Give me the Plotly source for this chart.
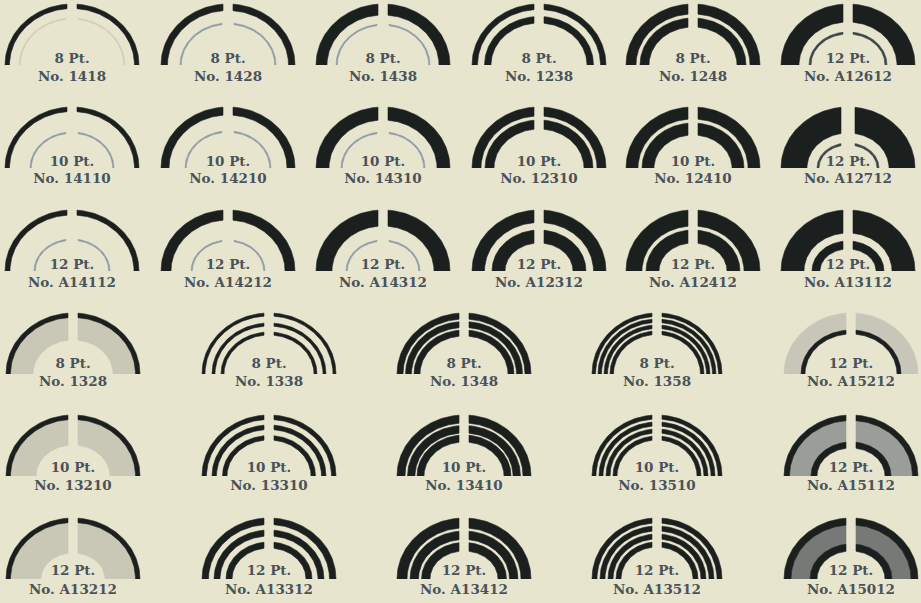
import numpy as np
import plotly.graph_objects as go

# ---------------- data ----------------
row_points = [8, 10, 12, 8, 10, 12]
rows_top = [
    ["1418", "1428", "1438", "1238", "1248", "A12612"],
    ["14110", "14210", "14310", "12310", "12410", "A12712"],
    ["A14112", "A14212", "A14312", "A12312", "A12412", "A13112"],
]
rows_bottom = [
    ["1328", "1338", "1348", "1358", "A15212"],
    ["13210", "13310", "13410", "13510", "A15112"],
    ["A13212", "A13312", "A13412", "A13512", "A15012"],
]
# point size printed for the last column of rows 1-6
last_col_points = [12, 12, 12, 12, 12, 12]

# ---------------- styles (band offsets from outer edge, px) ----------------
K = "#1b201f"
G1 = "#8e9aa4"
F = "#d3cfba"
LG = "#c9c7b5"
LG2 = "#c7c6b8"
MG = "#9b9d98"
DG = "#777977"
DL = "#3d4749"

STYLE = {
    "1418": [(0, 4.5, K), (14, 15.3, F)],
    "1428": [(0, 6.5, K), (19, 20.3, G1)],
    "1438": [(0, 11, K), (20, 21.3, G1)],
    "1238": [(0, 5.5, K), (12.5, 19, K)],
    "1248": [(0, 10, K), (14, 23, K)],
    "A12612": [(0, 18, K), (28, 30, DL)],
    "14110": [(0, 4.5, K), (25, 26.3, G1)],
    "14210": [(0, 8, K), (24, 25.3, G1)],
    "14310": [(0, 13, K), (25, 26.3, G1)],
    "12310": [(0, 9, K), (13, 22, K)],
    "12410": [(0, 12, K), (16, 28, K)],
    "A12712": [(0, 26, K), (36, 38, DL)],
    "A14112": [(0, 5, K), (29, 30.3, G1)],
    "A14212": [(0, 10, K), (30, 31.3, G1)],
    "A14312": [(0, 16, K), (30, 31.3, G1)],
    "A12312": [(0, 12.5, K), (20, 33, K)],
    "A12412": [(0, 16, K), (20, 33, K)],
    "A13112": [(0, 23, K), (31, 39, K)],
    "1328": [(4, 27, LG), (0, 4.5, K)],
    "1338": [(0, 3, K), (10, 13, K), (19, 22, K)],
    "1348": [(0, 6, K), (8.5, 14.5, K), (17, 23, K)],
    "1358": [(0, 3.5, K), (6, 9.5, K), (12, 15.5, K), (18, 21.5, K)],
    "A15212": [(0, 18, LG2), (17, 21, K)],
    "13210": [(4, 30, LG), (0, 4.5, K)],
    "13310": [(0, 4.5, K), (10, 14.5, K), (20.5, 25, K)],
    "13410": [(0, 8, K), (10.5, 18, K), (20, 27, K)],
    "13510": [(0, 4, K), (7, 11, K), (14, 18, K), (21, 25, K)],
    "A15112": [(5, 28, MG), (0, 5.5, K), (27, 33, K)],
    "A13212": [(4, 35, LG), (0, 4.5, K)],
    "A13312": [(0, 6.5, K), (12, 18, K), (24, 30, K)],
    "A13412": [(0, 10, K), (13, 21.5, K), (24.5, 33, K)],
    "A13512": [(0, 5, K), (8, 13, K), (16, 21, K), (24, 29, K)],
    "A15012": [(7, 26, DG), (0, 7, K), (26, 33, K)],
}
GAP = {"A12712": 14}

BG = "#e8e5cf"
TXT = "#48535a"

top_cx = [72, 228, 383, 539, 693, 848]
bot_cx = [73, 269, 464, 657, 851]
base_y = [65, 168, 271, 374, 476, 579]
pt_dy = [-5, -5, -5, -9, -7, -7]
no_dy = [13, 12, 13, 9, 11, 12]
RY = 61


def band_path(cx, by, rx, ry, d1, d2, gap):
    ax1, ay1 = rx - d1, ry - d1
    ax2, ay2 = rx - d2, ry - d2
    g = gap / 2.0
    t1 = np.arccos(-g / ax1)
    t2 = np.arccos(-g / ax2)
    to = np.linspace(np.pi, t1, 60)
    ti = np.linspace(t2, np.pi, 60)
    px = np.concatenate([ax1 * np.cos(to), ax2 * np.cos(ti)])
    py = np.concatenate([ay1 * np.sin(to), ay2 * np.sin(ti)])
    xs, ys = [], []
    for sgn in (1, -1):
        xs += list(cx + sgn * px) + [None]
        ys += list(by - py) + [None]
    return xs, ys


fig = go.Figure()

specimens = []
for r, names in enumerate(rows_top):
    for c, n in enumerate(names):
        pts = last_col_points[r] if c == len(names) - 1 else row_points[r]
        specimens.append((n, pts, top_cx[c], r, 67))
for rr, names in enumerate(rows_bottom):
    r = rr + 3
    for c, n in enumerate(names):
        pts = last_col_points[r] if c == len(names) - 1 else row_points[r]
        rx = 65 if c == 3 else 67
        specimens.append((n, pts, bot_cx[c], r, rx))

for n, pts, cx, r, rx in specimens:
    by = base_y[r]
    for d1, d2, col in STYLE[n]:
        gap = GAP.get(n, 10) + (2 if d2 - d1 < 2 else 0)
        xs, ys = band_path(cx, by, rx, RY, d1, d2, gap)
        fig.add_trace(go.Scatter(x=xs, y=ys, mode="lines", fill="toself",
                                 fillcolor=col, line=dict(color=col, width=0.6),
                                 hoverinfo="skip", showlegend=False))

fig.add_trace(go.Scatter(
    x=[s[2] for s in specimens],
    y=[base_y[s[3]] + pt_dy[s[3]] for s in specimens],
    text=[f"{s[1]} Pt." for s in specimens],
    mode="text", textposition="middle center",
    textfont=dict(family="DejaVu Serif", size=13.5, color=TXT, weight="bold"),
    hoverinfo="skip", showlegend=False))
fig.add_trace(go.Scatter(
    x=[s[2] for s in specimens],
    y=[base_y[s[3]] + no_dy[s[3]] for s in specimens],
    text=[f"No. {s[0]}" for s in specimens],
    mode="text", textposition="middle center",
    textfont=dict(family="DejaVu Serif", size=13.5, color=TXT, weight="bold"),
    hoverinfo="skip", showlegend=False))

fig.update_layout(
    width=921, height=603, margin=dict(l=0, r=0, t=0, b=0),
    paper_bgcolor=BG, plot_bgcolor=BG,
    xaxis=dict(range=[0, 921], visible=False, fixedrange=True),
    yaxis=dict(range=[603, 0], visible=False, fixedrange=True),
)
fig.write_html("out.html", post_script="document.body.style.margin='0';",
               config={"displayModeBar": False})
